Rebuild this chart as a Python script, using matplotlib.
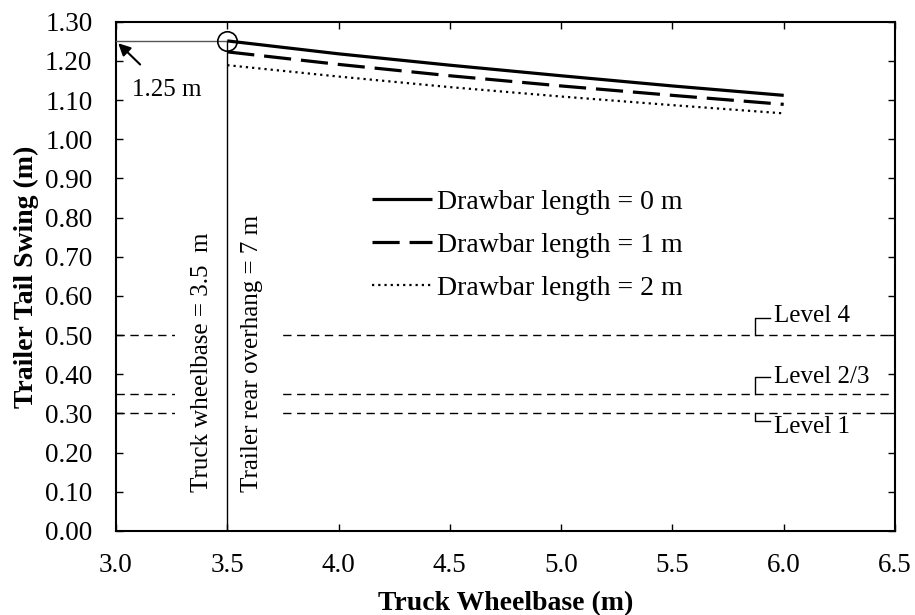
import matplotlib
matplotlib.use("Agg")
import matplotlib.pyplot as plt
import numpy as np

plt.rcParams['font.family'] = ['Liberation Serif', 'DejaVu Serif']
plt.rcParams['mathtext.fontset'] = 'stix'

wheelbase = [3.5, 4.0, 4.5, 5.0, 5.5, 6.0]
swing_0m = [1.251, 1.218, 1.189, 1.162, 1.136, 1.112]
swing_1m = [1.223, 1.191, 1.162, 1.136, 1.112, 1.089]
swing_2m = [1.189, 1.160, 1.133, 1.109, 1.087, 1.066]
series_labels = ["Drawbar length = 0 m", "Drawbar length = 1 m", "Drawbar length = 2 m"]

levels = [0.50, 0.35, 0.30]
level_labels = ["Level 4", "Level 2/3", "Level 1"]
level_bracket_y = [0.544, 0.393, 0.281]
level_text_y = [0.548, 0.393, 0.266]

ref_x = 3.5
ref_y = 1.25

xticks = [3.0, 3.5, 4.0, 4.5, 5.0, 5.5, 6.0, 6.5]
yticks = [round(0.1 * i, 2) for i in range(14)]

fig = plt.figure(figsize=(9.15, 6.15), dpi=100)
ax = fig.add_axes([116/915, 1-531/615, (895-116)/915, (531-21.7)/615])

FS_SMALL = 18
FS_TICK = 19.5
FS_BIG = 20

# level lines
for lv in levels:
    ax.plot([3.0, 6.5], [lv, lv], color='black', lw=1.0, dashes=(6, 4), zorder=1)

# bracket labels for levels
for lv, by, ty, lab in zip(levels, level_bracket_y, level_text_y, level_labels):
    ax.plot([5.87, 5.87, 5.94], [lv, by, by], color='black', lw=1.0, zorder=2)
    ax.text(5.955, ty, lab, fontsize=FS_SMALL, va='center', ha='left', zorder=3)

# rotated annotation texts with white boxes
ax.text(3.385, 0.430, "Truck wheelbase = 3.5  m", rotation=90, fontsize=FS_SMALL,
        ha='center', va='center', zorder=4,
        bbox=dict(facecolor='white', edgecolor='none', boxstyle='square,pad=0.62'))
ax.text(3.612, 0.452, "Trailer rear overhang = 7 m", rotation=90, fontsize=FS_SMALL,
        ha='center', va='center', zorder=4,
        bbox=dict(facecolor='white', edgecolor='none', boxstyle='square,pad=0.58'))

# reference lines
ax.plot([ref_x, ref_x], [0, ref_y], color='black', lw=1.0, zorder=5)
ax.plot([3.0, ref_x], [ref_y, ref_y], color='#555555', lw=1.0, zorder=5)
ax.plot([ref_x], [ref_y], marker='o', markersize=14, markerfacecolor='none',
        markeredgecolor='black', markeredgewidth=1.2, zorder=6, linestyle='none')

# arrow annotation
ax.annotate("1.25 m", xy=(3.010, 1.245), xytext=(3.07, 1.126), fontsize=FS_SMALL,
            ha='left', va='center', zorder=6,
            arrowprops=dict(arrowstyle='-|>', color='black', lw=1.5,
                            mutation_scale=18, shrinkA=12, shrinkB=0))

# series
l0, = ax.plot(wheelbase, swing_0m, color='black', lw=2.3, solid_capstyle='butt', zorder=7)
l1, = ax.plot(wheelbase, swing_1m, color='black', lw=2.3, dashes=(8.5, 3.1), zorder=7)
l2, = ax.plot(wheelbase, swing_2m, color='black', lw=1.6, dashes=(1.0, 1.8), zorder=7)

leg = ax.legend([l0, l1, l2], series_labels, loc='upper left',
                bbox_to_anchor=(0.3286, 0.671), frameon=False, fontsize=FS_BIG,
                handlelength=2.16, handletextpad=0.18, labelspacing=0.63,
                borderpad=0, borderaxespad=0)

ax.set_xlim(3.0, 6.5)
ax.set_ylim(0.0, 1.30)
ax.set_xticks(xticks)
ax.set_xticklabels([f"{v:.1f}" for v in xticks])
ax.set_yticks(yticks)
ax.set_yticklabels([f"{v:.2f}" for v in yticks])
ax.tick_params(direction='in', length=5, width=1.0, top=True, right=True,
               labelsize=FS_TICK)
ax.tick_params(axis='y', pad=17)
ax.tick_params(axis='x', pad=16)
for s in ax.spines.values():
    s.set_linewidth(1.5)

ax.set_xlabel("Truck Wheelbase (m)", fontsize=FS_BIG, fontweight='bold', labelpad=9)
ax.set_ylabel("Trailer Tail Swing (m)", fontsize=FS_BIG, fontweight='bold', labelpad=4)

fig.savefig("out.png", dpi=100)
